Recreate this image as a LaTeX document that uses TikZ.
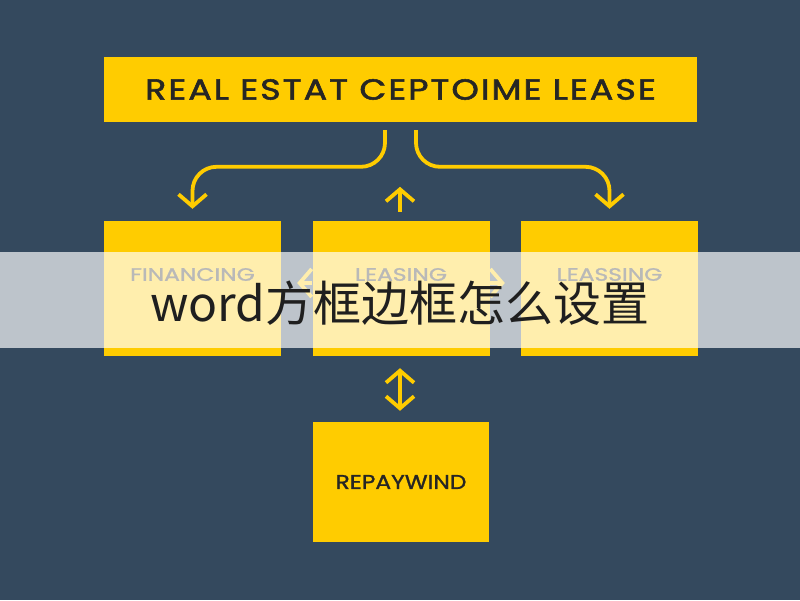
\documentclass[tikz,border=0pt]{standalone}
\usepackage{fontspec}
\setmainfont{Poppins}
\newfontfamily\boxfont{Poppins}[FakeBold=1.2]
\newfontfamily\headfont{Poppins}[FakeBold=1.8, LetterSpace=6]
\newfontfamily\cjkfont{Noto Sans CJK SC}
\usetikzlibrary{arrows.meta}
\definecolor{slate}{RGB}{52,73,94}
\definecolor{gold}{RGB}{255,204,0}
\definecolor{ink}{RGB}{38,38,36}
\newcommand{\wide}[2]{\scalebox{#1}[1]{#2}}
\begin{document}
\begin{tikzpicture}[x=1pt,y=1pt,>={Straight Barb[length=12pt,width=28pt]},
    box/.style={fill=gold, text=ink, inner sep=0pt, minimum width=177pt, minimum height=135pt,
      font=\boxfont\fontsize{20}{24}\selectfont},
    tag/.style={text=ink, inner sep=0pt, font=\boxfont\fontsize{18}{22}\selectfont},
    flow/.style={draw=gold, line width=3.8pt, ->}]
  \fill[slate] (0,0) rectangle (800,600);
  \node[box, minimum width=593pt, minimum height=65pt, font=\headfont\fontsize{29}{34}\selectfont] (top) at (400.5,510.5) {\wide{1.2}{REAL ESTAT CEPTOIME LEASE}};
  \node[box] (fin) at (192.5,311.5) {};
  \node[box] (lea) at (401,311.5) {};
  \node[box] (les) at (609.5,311.5) {};
  \node[box, minimum width=176pt, minimum height=120pt] (bot) at (401,118) {\wide{1.17}{REPAYWIND}};
  \node[tag] (finT) at ([yshift=14pt]fin.center) {\wide{1.3}{FINANCING}};
  \node[tag] (leaT) at ([yshift=14pt]lea.center) {\wide{1.3}{LEASING}};
  \node[tag] (lesT) at ([yshift=14pt]les.center) {\wide{1.3}{LEASSING}};
  \draw[flow, rounded corners=24pt] ([xshift=-15.5pt,yshift=-8pt]top.south) |- ([yshift=54pt]fin.north) -- ([yshift=12pt]fin.north);
  \draw[flow, rounded corners=24pt] ([xshift=15.5pt,yshift=-8pt]top.south) |- ([yshift=54pt]les.north) -- ([yshift=12pt]les.north);
  \draw[flow] ([xshift=-1pt,yshift=9pt]lea.north) -- ([xshift=-1pt,yshift=34pt]lea.north);
  \draw[flow] ([yshift=5.5pt]lea.west) -- ([xshift=16pt,yshift=5.5pt]fin.east);
  \draw[flow] ([yshift=5.5pt]lea.east) -- ([xshift=-16pt,yshift=5.5pt]les.west);
  \draw[flow, <->] ([xshift=-1pt,yshift=-12pt]lea.south) -- ([xshift=-1pt,yshift=11pt]bot.north);
  \fill[white, opacity=0.68] (0,252) rectangle (800,348);
  \node[font=\cjkfont\fontsize{48}{56}\selectfont, text=black!88, inner sep=0pt] (title) at (400,297) {word方框边框怎么设置};
\end{tikzpicture}
\end{document}
